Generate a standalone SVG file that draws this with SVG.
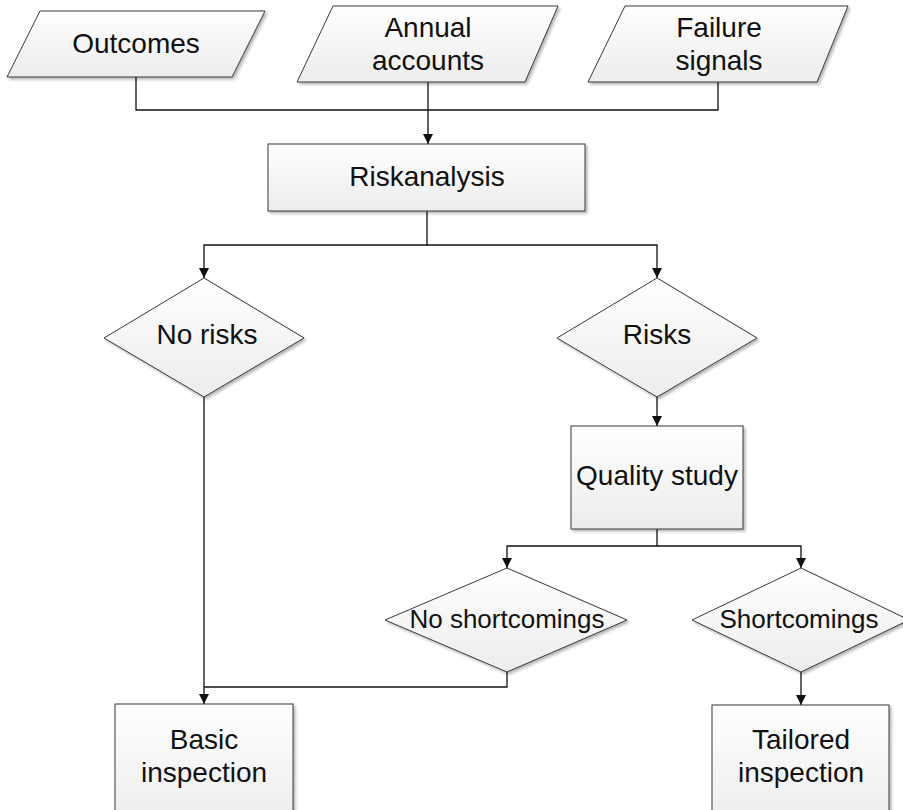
<svg xmlns="http://www.w3.org/2000/svg" width="903" height="810" viewBox="0 0 903 810">
<defs>
<linearGradient id="g" x1="0" y1="0" x2="0" y2="1">
<stop offset="0" stop-color="#ffffff"/>
<stop offset="1" stop-color="#ececec"/>
</linearGradient>
<filter id="sh" x="-10%" y="-10%" width="130%" height="130%">
<feGaussianBlur in="SourceAlpha" stdDeviation="1.5"/>
<feOffset dx="2" dy="2" result="b"/>
<feComponentTransfer><feFuncA type="linear" slope="0.3"/></feComponentTransfer>
<feMerge><feMergeNode/><feMergeNode in="SourceGraphic"/></feMerge>
</filter>
<marker id="arr" viewBox="0 0 10 10" refX="10" refY="5" markerWidth="11" markerHeight="10" markerUnits="userSpaceOnUse" orient="auto">
<path d="M0,0 L10,5 L0,10 z" fill="#111"/>
</marker>
</defs>
<style>
.n{fill:url(#g);stroke:#3a3a3a;stroke-width:1;filter:url(#sh)}
.t{font-family:"Liberation Sans",Arial,sans-serif;font-size:28px;fill:#111;text-anchor:middle}
.s{font-size:26px}
.c{fill:none;stroke:#111;stroke-width:1.3}
</style>
<rect width="903" height="810" fill="#ffffff"/>
<g id="connectors">
<polyline class="c" points="136,77 136,110 718,110 718,82"/>
<line class="c" x1="428" y1="82" x2="428" y2="144" marker-end="url(#arr)"/>
<polyline class="c" points="427,211 427,245 204,245 204,278" marker-end="url(#arr)"/>
<polyline class="c" points="427,245 657,245 657,278" marker-end="url(#arr)"/>
<line class="c" x1="657" y1="397" x2="657" y2="426" marker-end="url(#arr)"/>
<line class="c" x1="204" y1="397" x2="204" y2="704" marker-end="url(#arr)"/>
<polyline class="c" points="657,529 657,546 507,546 507,568" marker-end="url(#arr)"/>
<polyline class="c" points="657,546 801,546 801,568" marker-end="url(#arr)"/>
<polyline class="c" points="507,672 507,687 204,687"/>
<line class="c" x1="801" y1="672" x2="801" y2="705" marker-end="url(#arr)"/>
</g>
<g id="outcomes">
<polygon class="n" points="40,11 265,11 232,77 7,77"/>
<text class="t" x="136" y="53">Outcomes</text>
</g>
<g id="annual-accounts">
<polygon class="n" points="333,6 558,6 525,82 297,82"/>
<text class="t" x="428" y="37">Annual</text>
<text class="t" x="428" y="70">accounts</text>
</g>
<g id="failure-signals">
<polygon class="n" points="625,6 848,6 817,82 588,82"/>
<text class="t" x="719" y="37">Failure</text>
<text class="t" x="719" y="70">signals</text>
</g>
<g id="riskanalysis">
<rect class="n" x="268" y="144" width="317" height="67"/>
<text class="t" x="427" y="186">Riskanalysis</text>
</g>
<g id="no-risks">
<polygon class="n" points="204,278 304,338 204,397 104,338"/>
<text class="t" x="207" y="344">No risks</text>
</g>
<g id="risks">
<polygon class="n" points="657,278 757,338 657,397 557,338"/>
<text class="t" x="657" y="344">Risks</text>
</g>
<g id="quality-study">
<rect class="n" x="571" y="426" width="172" height="103"/>
<text class="t" x="657" y="485">Quality study</text>
</g>
<g id="no-shortcomings">
<polygon class="n" points="507,568 627,620 507,672 385,620"/>
<text class="t s" x="507" y="628">No shortcomings</text>
</g>
<g id="shortcomings">
<polygon class="n" points="801,568 909,620 801,672 692,620"/>
<text class="t s" x="799" y="628">Shortcomings</text>
</g>
<g id="basic-inspection">
<rect class="n" x="115" y="704" width="178" height="120"/>
<text class="t" x="204" y="749">Basic</text>
<text class="t" x="204" y="782">inspection</text>
</g>
<g id="tailored-inspection">
<rect class="n" x="712" y="705" width="177" height="120"/>
<text class="t" x="801" y="749">Tailored</text>
<text class="t" x="801" y="782">inspection</text>
</g>
</svg>
